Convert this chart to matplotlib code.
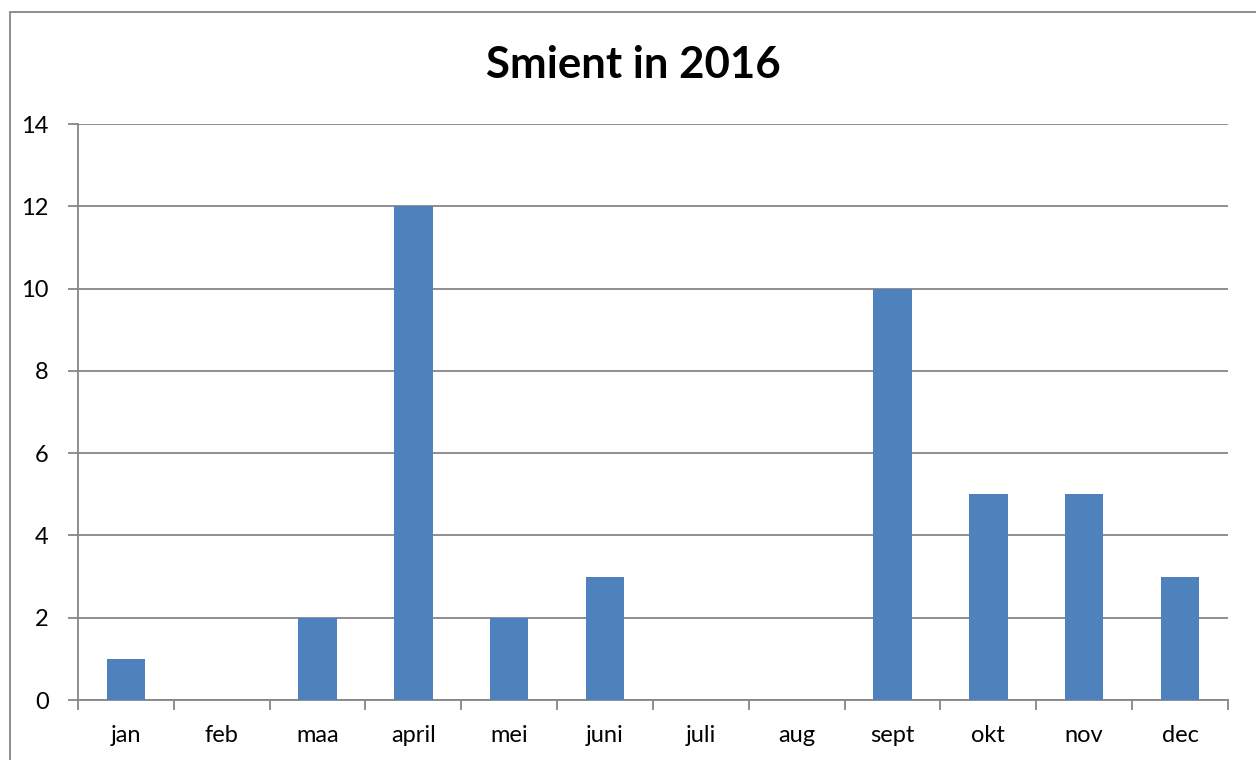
import matplotlib.pyplot as plt
import numpy as np
from matplotlib.patches import Rectangle

# data
months = ['jan', 'feb', 'maa', 'april', 'mei', 'juni', 'juli', 'aug',
          'sept', 'okt', 'nov', 'dec']
counts = [1, 0, 2, 12, 2, 3, 0, 0, 10, 5, 5, 3]

plt.rcParams['font.family'] = ['Lato', 'DejaVu Sans']

fig = plt.figure(figsize=(12.56, 7.6), dpi=100)
ax = fig.add_axes([0.0621, 0.0789, 0.9156, 0.7579])

x = np.arange(len(months))
ax.bar(x, counts, width=0.4, color='#4F81BD', zorder=3)

ax.set_xlim(-0.5, len(months) - 0.5)
ax.set_ylim(0, 14)
ax.set_yticks(np.arange(0, 15, 2))
ax.yaxis.grid(True, color='#868686', linewidth=1.3, zorder=0)

# category labels centred, tick marks between categories
ax.set_xticks(x)
ax.set_xticklabels(months, fontsize=17)
ax.set_xticks(np.arange(-0.5, len(months), 1), minor=True)
ax.tick_params(axis='x', which='major', length=0, pad=18)
ax.tick_params(axis='x', which='minor', length=7, width=1.3, color='#868686')
ax.tick_params(axis='y', length=7, width=1.3, color='#868686', labelsize=17, pad=14)

for s in ['top', 'right']:
    ax.spines[s].set_visible(False)
for s in ['left', 'bottom']:
    ax.spines[s].set_color('#868686')
    ax.spines[s].set_linewidth(1.3)

fig.text(0.504, 0.915, 'Smient in 2016', ha='center', va='center',
         fontsize=31.5, fontweight='bold')

# chart area border
fig.patches.append(Rectangle((10 / 1256, -0.1), 1.2, 1.1 - 12 / 760,
                             transform=fig.transFigure, fill=False,
                             edgecolor='#868686', linewidth=1.3))

plt.savefig('out.png', dpi=100)
